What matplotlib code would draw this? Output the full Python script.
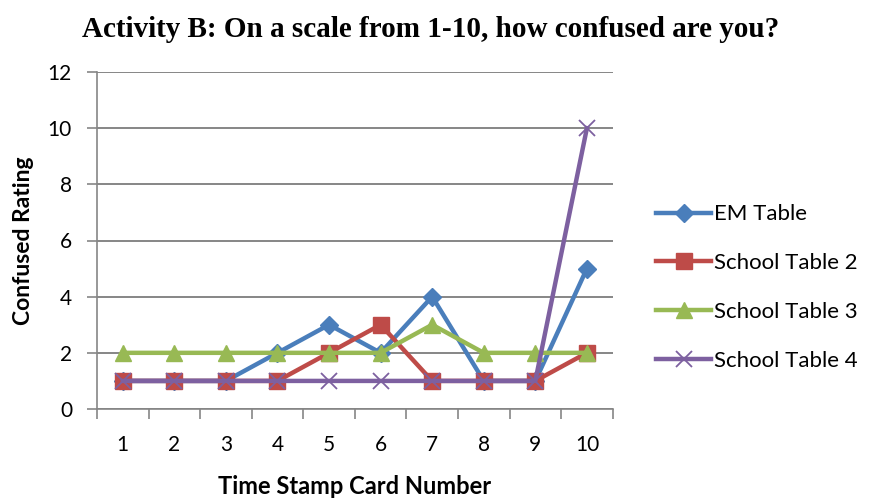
import numpy as np
import matplotlib.pyplot as plt
from matplotlib.ticker import FixedLocator, NullFormatter

# card numbers and ratings for each table
cards = [1, 2, 3, 4, 5, 6, 7, 8, 9, 10]
em_table = [1, 1, 1, 2, 3, 2, 4, 1, 1, 5]
school_2 = [1, 1, 1, 1, 2, 3, 1, 1, 1, 2]
school_3 = [2, 2, 2, 2, 2, 2, 3, 2, 2, 2]
school_4 = [1, 1, 1, 1, 1, 1, 1, 1, 1, 10]
names = ['EM Table', 'School Table 2', 'School Table 3', 'School Table 4']

plt.rcParams['font.family'] = ['Lato', 'DejaVu Sans']

fig = plt.figure(figsize=(8.74, 5.0), dpi=100)
ax = fig.add_axes([0.111, 0.182, 0.590, 0.674])

grid_c = '#868686'
ax.plot(cards, em_table, color='#4A7EBB', lw=3.2, marker='D', ms=9, label=names[0])
ax.plot(cards, school_2, color='#BE4B48', lw=3.2, marker='s', ms=11, label=names[1])
ax.plot(cards, school_3, color='#98B954', lw=3.2, marker='^', ms=12, label=names[2])
ax.plot(cards, school_4, color='#7D60A0', lw=3.2, marker='x', ms=11, mew=1.3, label=names[3])

ax.set_xlim(0.5, 10.5)
ax.set_ylim(0, 12)
ax.set_yticks(range(0, 13, 2))
ax.yaxis.grid(True, color=grid_c, lw=1.4)
ax.set_axisbelow(True)

# category boundaries get the tick marks, labels sit in between
ax.xaxis.set_major_locator(FixedLocator(np.arange(0.5, 11, 1)))
ax.xaxis.set_major_formatter(NullFormatter())
ax.xaxis.set_minor_locator(FixedLocator(cards))
ax.set_xticklabels([str(c) for c in cards], minor=True)
ax.tick_params(axis='x', which='minor', length=0, pad=19, labelsize=15)
ax.tick_params(axis='x', which='major', length=7, color=grid_c, width=1.2)
ax.tick_params(axis='y', length=7, color=grid_c, width=1.2, labelsize=15, pad=11)

for s in ['top', 'right']:
    ax.spines[s].set_visible(False)
for s in ['left', 'bottom']:
    ax.spines[s].set_color(grid_c)
    ax.spines[s].set_linewidth(1.2)

ax.set_xlabel('Time Stamp Card Number', fontsize=17, fontweight='bold', labelpad=14)
ax.set_ylabel('Confused Rating', fontsize=16.5, fontweight='bold', labelpad=10)
fig.suptitle('Activity B: On a scale from 1-10, how confused are you?',
             family='Liberation Serif', fontweight='bold', fontsize=21, x=0.493, y=0.968)

ax.legend(loc='center left', bbox_to_anchor=(1.045, 0.36), frameon=False,
          fontsize=16, handlelength=2.5, handletextpad=0.1, labelspacing=1.3)

fig.savefig('out.png', dpi=100)
